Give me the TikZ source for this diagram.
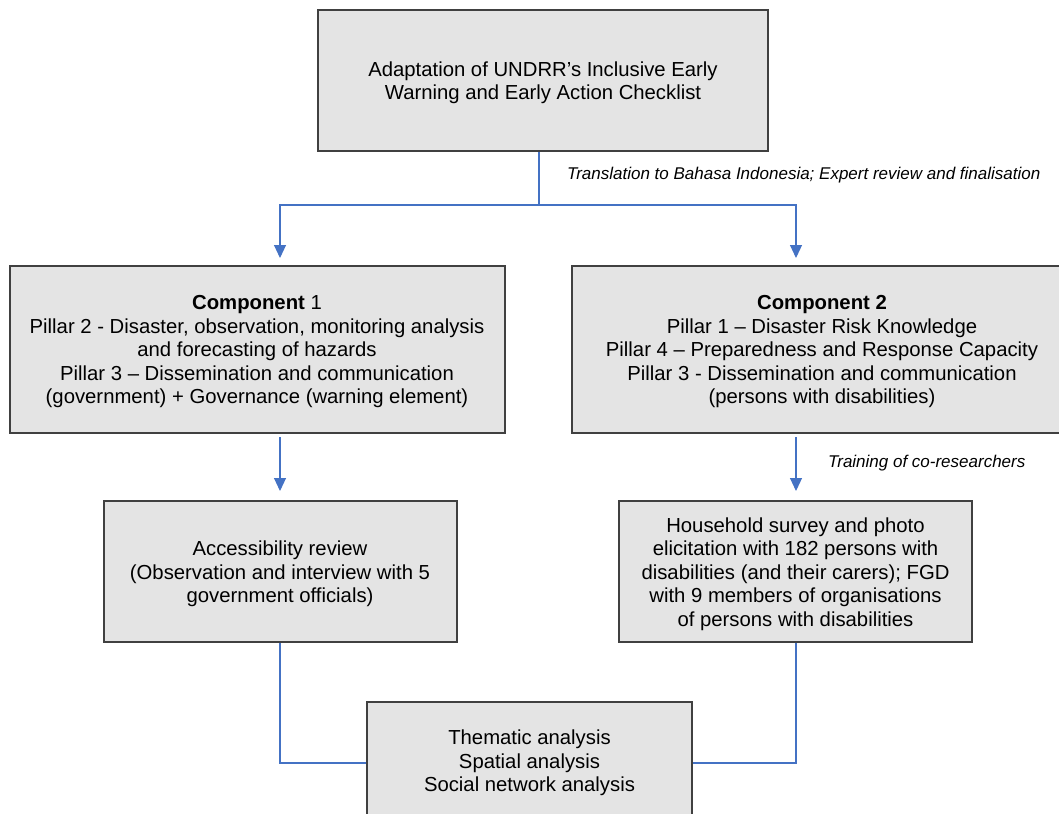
\documentclass[tikz,border=0pt]{standalone}
\usepackage{fontspec}
\setmainfont{Liberation Sans}
\usetikzlibrary{arrows.meta}
\definecolor{boxfill}{HTML}{E4E4E4}
\definecolor{boxline}{HTML}{404040}
\definecolor{conn}{HTML}{4472C4}
\newcommand{\boxtext}[1]{\raisebox{-3pt}[\height][\depth]{\begin{tabular}{@{}c@{}}#1\end{tabular}}}
\tikzset{
  box/.style={draw=boxline, line width=2pt, fill=boxfill,
    inner sep=0pt, font=\fontsize{20.3}{23.5}\selectfont},
  link/.style={draw=conn, line width=1.1pt},
  arr/.style={link, -{Triangle[width=12pt,length=13pt]}},
  note/.style={font=\fontsize{17}{20}\selectfont\itshape, anchor=west, inner sep=0pt}
}
\begin{document}
\begin{tikzpicture}[x=1pt,y=-1pt]
\useasboundingbox (0,0) rectangle (1059,813);
\node[box, minimum width=450pt, minimum height=141pt] (top) at (543,80.5)
  {\boxtext{Adaptation of UNDRR’s Inclusive Early\\Warning and Early Action Checklist}};
\node[box, minimum width=495pt, minimum height=167pt] (c1) at (257,349)
  {\boxtext{\textbf{Component} 1\\Pillar 2 - Disaster, observation, monitoring analysis\\and forecasting of hazards\\Pillar 3 – Dissemination and communication\\(government) + Governance (warning element)}};
\node[box, minimum width=500pt, minimum height=167pt, anchor=west] (c2) at (571,349)
  {\boxtext{\textbf{Component 2}\\Pillar 1 – Disaster Risk Knowledge\\Pillar 4 – Preparedness and Response Capacity\\Pillar 3 - Dissemination and communication\\(persons with disabilities)}};
\node[box, minimum width=353pt, minimum height=141pt] (acc) at (280,571.5)
  {\boxtext{Accessibility review\\(Observation and interview with 5\\government officials)}};
\node[box, minimum width=353pt, minimum height=141pt] (hh) at (795.5,571.5)
  {\boxtext{Household survey and photo\\elicitation with 182 persons with\\disabilities (and their carers); FGD\\with 9 members of organisations\\of persons with disabilities}};
\node[box, minimum width=325pt, minimum height=118pt] (ana) at (529.5,760.5)
  {\boxtext{Thematic analysis\\Spatial analysis\\Social network analysis}};
\coordinate (split) at (539,205);
\coordinate (lcol) at (280,205);
\coordinate (rcol) at (796,205);
\coordinate (lend) at (280,258);
\coordinate (rend) at (796,258);
\coordinate (lmid1) at (280,437);
\coordinate (lmid2) at (280,491);
\coordinate (rmid1) at (796,437);
\coordinate (rmid2) at (796,491);
\draw[link] (top.south -| split) -- (split);
\draw[arr] (split) -- (lcol) -- (lend);
\draw[arr] (split) -- (rcol) -- (rend);
\draw[arr] (lmid1) -- (lmid2);
\draw[arr] (rmid1) -- (rmid2);
\draw[link] (acc.south) |- (ana.west |- 0,763);
\draw[link] (hh.south -| rcol) |- (ana.east |- 0,763);
\node[note] (n1) at (567,175) {Translation to Bahasa Indonesia; Expert review and finalisation};
\node[note] (n2) at (828,463) {Training of co-researchers};
\end{tikzpicture}
\end{document}
